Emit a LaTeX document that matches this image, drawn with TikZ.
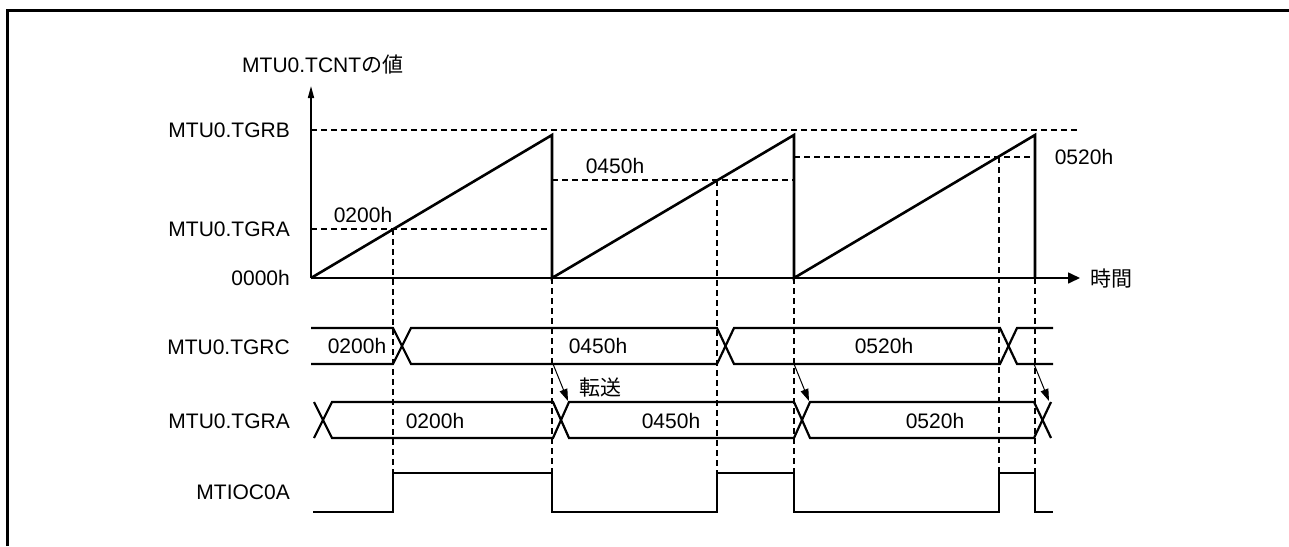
\documentclass[tikz,border=0pt]{standalone}
\usepackage{fontspec}
\setmainfont{Liberation Sans}
\newfontfamily\jp{Noto Sans CJK JP}
\usetikzlibrary{arrows.meta}
\begin{document}
\begin{tikzpicture}[x=1pt,y=-1pt,
  lbl/.style={font=\fontsize{21}{24}\selectfont, inner sep=0pt},
  wave/.style={line width=2.6pt, line join=miter},
  bus/.style={line width=2.2pt, line join=miter},
  axis/.style={line width=1.6pt},
  guide/.style={line width=1.1pt, dash pattern=on 6pt off 4pt},
  xfer/.style={line width=1pt, -{Triangle[length=12pt,width=8pt]}},
  frame/.style={line width=3pt, line join=miter}
]
\useasboundingbox (0,0) rectangle (1289,546);
\draw[frame] (7,546) -- (7,10) -- (1289,10);

% guide lines
\draw[guide] (311,130) -- (1078,130);
\draw[guide] (311,229) -- (552,229);
\draw[guide] (552,180) -- (794,180);
\draw[guide] (794,157) -- (1035,157);
\draw[guide] (393,229) -- (393,473);
\draw[guide] (552,278) -- (552,473);
\draw[guide] (717,180) -- (717,473);
\draw[guide] (794,278) -- (794,473);
\draw[guide] (999,157) -- (999,473);
\draw[guide] (1035,278) -- (1035,473);

% axes
\coordinate (o) at (311,278);
\coordinate (ytop) at (311,86);
\coordinate (xend) at (1080,278);
\draw[axis, -{Triangle[length=12pt,width=6pt]}] (o) -- (ytop);
\draw[axis, -{Triangle[length=12pt,width=11pt]}] (o) -- (xend);

% counter ramps
\draw[wave] (311,278) -- (552,135) -- (552,278) -- (794,135) -- (794,278) -- (1035,135) -- (1035,278);

% TGRC bus
\draw[bus] (311,328) -- (393,328) -- (411,364) -- (717,364) -- (734,328) -- (1000,328) -- (1017,364) -- (1053,364);
\draw[bus] (311,364) -- (393,364) -- (411,328) -- (717,328) -- (734,364) -- (1000,364) -- (1017,328) -- (1053,328);

% TGRA bus
\draw[bus] (314,402) -- (332,438) -- (553,438) -- (569,402) -- (794,402) -- (810,438) -- (1034,438) -- (1051,402);
\draw[bus] (314,438) -- (332,402) -- (553,402) -- (569,438) -- (794,438) -- (810,402) -- (1034,402) -- (1051,438);

% MTIOC0A
\draw[wave] (313,512) -- (393,512) -- (393,473) -- (552,473) -- (552,512) -- (717,512) -- (717,473) -- (794,473) -- (794,512) -- (999,512) -- (999,473) -- (1035,473) -- (1035,512) -- (1053,512);

% transfer arrows
\coordinate (c1) at (553,364); \coordinate (a1) at (568,401);
\coordinate (c2) at (794,364); \coordinate (a2) at (809,401);
\coordinate (c3) at (1034,364); \coordinate (a3) at (1049,401);
\draw[xfer] (c1) -- (a1);
\draw[xfer] (c2) -- (a2);
\draw[xfer] (c3) -- (a3);

% labels
\node[lbl, anchor=west] (ylab) at (242,65) {MTU0.TCNT{\jp の値}};
\node[lbl, anchor=east] (lB) at (290,130) {MTU0.TGRB};
\node[lbl, anchor=east] (lA) at (290,229) {MTU0.TGRA};
\node[lbl, anchor=east] (l0) at (290,278) {0000h};
\node[lbl, anchor=east] (lC2) at (290,347) {MTU0.TGRC};
\node[lbl, anchor=east] (lA2) at (290,421) {MTU0.TGRA};
\node[lbl, anchor=east] (lM) at (290,492) {MTIOC0A};
\node[lbl] (v1) at (363,215) {0200h};
\node[lbl] (v2) at (615,166) {0450h};
\node[lbl] (v3) at (1084,157) {0520h};
\node[lbl, anchor=west] (t) at (1090,279) {\jp 時間};
\node[lbl] (c200) at (357,346) {0200h};
\node[lbl] (c450) at (598,346) {0450h};
\node[lbl] (c520) at (884,346) {0520h};
\node[lbl] (a200) at (435,421) {0200h};
\node[lbl] (a450) at (671,421) {0450h};
\node[lbl] (a520) at (935,421) {0520h};
\node[lbl] (tr) at (600,388) {\jp 転送};
\end{tikzpicture}
\end{document}
